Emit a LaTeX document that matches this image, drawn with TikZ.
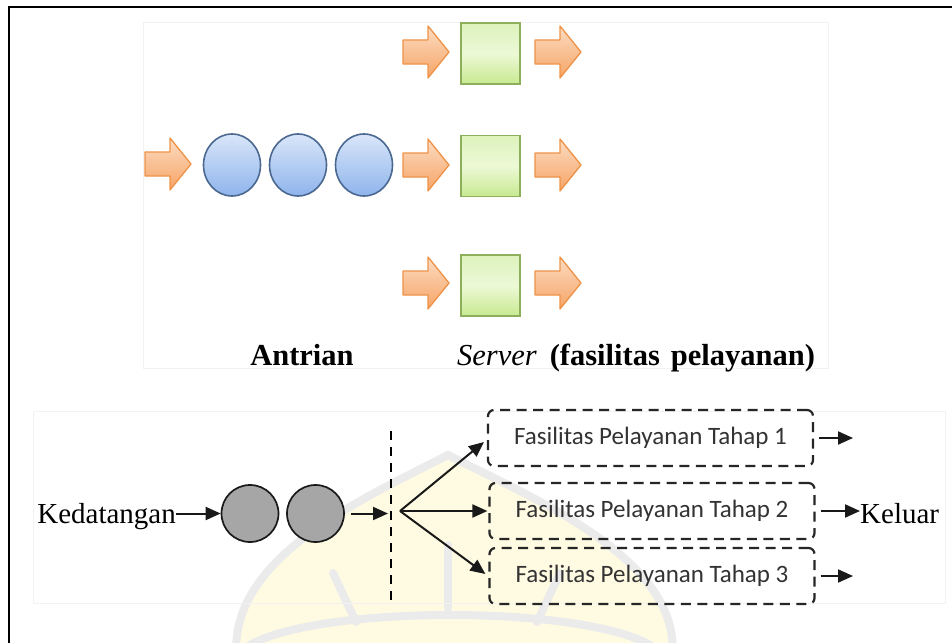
\documentclass[tikz,border=0pt]{standalone}
\usepackage{fontspec}
\newfontfamily\calibrif{Carlito}
\newfontfamily\timesf{Liberation Serif}
\usetikzlibrary{arrows.meta,shapes.geometric}

\definecolor{arrfillA}{HTML}{FCDCC2}
\definecolor{arrfillB}{HTML}{F6A466}
\definecolor{arrline}{HTML}{EE9247}
\definecolor{sqA}{HTML}{DDF2BC}
\definecolor{sqM}{HTML}{ECF9D6}
\definecolor{sqB}{HTML}{C8E991}
\definecolor{sqline}{HTML}{8DAE5A}
\definecolor{cirA}{HTML}{D9E6F9}
\definecolor{cirB}{HTML}{8EB4EC}
\definecolor{cirline}{HTML}{4A6890}
\definecolor{custgray}{HTML}{A6A6A6}
\definecolor{boxtext}{HTML}{333333}
\definecolor{faintframe}{HTML}{F2F2F2}
\definecolor{markfill}{HTML}{FFFBE2}
\definecolor{markline}{HTML}{EBEBEB}

\tikzset{
  blockarr/.pic={
    \draw[line width=1.3pt, draw=arrline, top color=arrfillA, bottom color=arrfillB,
          line join=round]
      (0,-12) -- (25,-12) -- (25,-26) -- (46,0) -- (25,26) -- (25,12) -- (0,12) -- cycle;
  },
  server/.style={draw=sqline, line width=1.8pt, top color=sqA, bottom color=sqB,
    middle color=sqM, minimum width=59pt, minimum height=61pt, inner sep=0pt},
  cust/.style={ellipse, draw=cirline, line width=1.6pt, top color=cirA, bottom color=cirB,
    minimum width=57pt, minimum height=62pt, inner sep=0pt},
  graycust/.style={circle, draw=black!90, line width=1.7pt, fill=custgray,
    minimum size=57pt, inner sep=0pt},
  stage/.style={draw=black!85, line width=2.2pt, dash pattern=on 10pt off 6.5pt,
    rounded corners=6pt, minimum width=325pt, minimum height=56pt, inner sep=0pt,
    font=\calibrif\fontsize{25}{30}\selectfont, text=boxtext},
  blk/.style={line width=2pt, draw=black!90, -{Triangle[length=15pt,width=13pt]}},
  serif/.style={font=\timesf\fontsize{29}{34}\selectfont, inner sep=0pt},
  toplabel/.style={font=\timesf\fontsize{30.5}{36}\selectfont, inner sep=0pt},
  emblem/.style={markline, line width=8pt, line cap=round},
}

\begin{document}
\begin{tikzpicture}[x=1pt, y=-1pt]
  \useasboundingbox (0,0) rectangle (952,642);
  \clip (0,0) rectangle (952,642);
  \fill[white] (0,0) rectangle (952,642);

  % faint emblem in the background
  \fill[markfill] (237,660) .. controls (225,560) and (360,500) .. (448,455)
    .. controls (536,500) and (684,560) .. (672,660) -- cycle;
  \draw[emblem] (237,660) .. controls (225,560) and (360,500) .. (448,455)
    .. controls (536,500) and (684,560) .. (672,660);
  \draw[emblem] (448,545) -- (448,608);
  \draw[emblem] (333,573) -- (356,622);
  \draw[emblem] (560,573) -- (537,622);
  \draw[emblem] (250,645) .. controls (320,605) and (580,605) .. (650,645);

  % frames
  \draw[black, line width=2.8pt] (9,660) -- (9,7) -- (970,7);
  \draw[faintframe, line width=0.8pt] (143,22) rectangle (828,368);
  \draw[faintframe, line width=0.8pt] (33,411) rectangle (945,603);

  % upper scheme: queue and three servers
  \pic at (145,164) {blockarr};
  \node[cust] (q1) at (232,165) {};
  \node[cust] (q2) at (298,165) {};
  \node[cust] (q3) at (364,165) {};

  \pic at (403,52) {blockarr};
  \pic at (403,165) {blockarr};
  \pic at (403,283) {blockarr};
  \node[server] (s1) at (490.5,53.5) {};
  \node[server] (s2) at (490.5,166) {};
  \node[server] (s3) at (490.5,285.5) {};
  \pic at (535,52) {blockarr};
  \pic at (535,165) {blockarr};
  \pic at (535,283) {blockarr};

  \node[toplabel, anchor=base] (lq) at (302,365) {\bfseries Antrian};
  \node[toplabel, anchor=base west] (ls) at (457,365)
    {\itshape Server\hspace{13pt}\bfseries\upshape (fasilitas\hspace{11pt}pelayanan)};

  % lower scheme: arrivals, queue, service stages, exit
  \node[serif, anchor=base east] (ked) at (176,523) {Kedatangan};
  \node[graycust] (g1) at (250,513.5) {};
  \node[graycust] (g2) at (315.5,513.5) {};
  \coordinate (dtop) at (391,431);
  \coordinate (dbot) at (391,601);
  \coordinate (qin) at (388,513.5);
  \coordinate (fan) at (400,511);

  \node[stage] (b1) at (650.5,438) {Fasilitas Pelayanan Tahap 1};
  \node[stage] (b2) at (652,511) {Fasilitas Pelayanan Tahap 2};
  \node[stage] (b3) at (652,576) {Fasilitas Pelayanan Tahap 3};

  \node[serif, anchor=base west] (out) at (860,523) {Keluar};
  \coordinate (o1) at (853,438);
  \coordinate (o3) at (853,576);

  \draw[blk] (ked.east |- g1) -- (g1.west);
  \draw[blk] ([xshift=6pt]g2.east) -- (qin);
  \draw[line width=2pt, dash pattern=on 9pt off 7pt] (dtop) -- (dbot);
  \draw[blk] (fan) -- ([xshift=-3pt,yshift=-4pt]b1.west);
  \draw[blk] (fan) -- ([xshift=-1pt]b2.west);
  \draw[blk] (fan) -- ([xshift=-3pt,yshift=2pt]b3.west);

  \draw[blk] ([xshift=5pt]b1.east) -- (o1);
  \draw[blk] ([xshift=5pt]b2.east) -- (out.west |- b2);
  \draw[blk] ([xshift=5pt]b3.east) -- (o3);
\end{tikzpicture}
\end{document}
